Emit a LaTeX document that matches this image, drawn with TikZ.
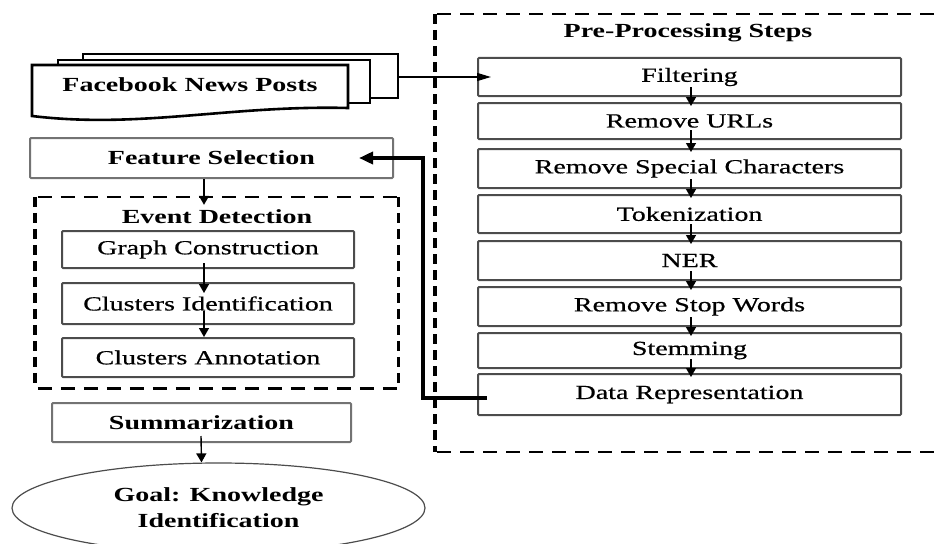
\documentclass[tikz,border=0pt]{standalone}
\usepackage{fontspec}
\setmainfont[FakeStretch=1.4, UprightFeatures={FakeBold=0.6}]{Liberation Serif}
\usetikzlibrary{arrows.meta,shapes.geometric}
\begin{document}
\begin{tikzpicture}[x=1pt,y=-1pt,
  font=\fontsize{20}{26}\selectfont,
  boxbase/.style={draw=black!70, line width=2pt, rounded corners=1pt, inner sep=0pt, fill=white},
  pbox/.style={boxbase, minimum width=423pt},
  ebox/.style={boxbase, minimum width=292pt},
  sheet/.style={draw=black, line width=2.6pt, fill=white, inner sep=0pt},
  hd/.style={line width=2.6pt, dash pattern=on 14pt off 9pt},
  vd/.style={line width=3.4pt, dash pattern=on 10pt off 6pt},
  arr/.style={line width=1.4pt, -{Triangle[length=9pt,width=10pt]}},
  bigarr/.style={line width=3.6pt, -{Triangle[length=14pt,width=12pt]}},
  docarr/.style={line width=1.3pt, -{Triangle[length=14pt,width=8pt]}}
]
\useasboundingbox (0,0) rectangle (936,543);
\clip (0,0) rectangle (936,543);

% ---------- documents ----------
\node[sheet, minimum width=315pt, minimum height=44pt] (doc3) at (240.5,76) {};
\node[sheet, minimum width=312pt, minimum height=43pt] (doc2) at (214,81.5) {};
\draw[line width=2.6pt, fill=white] (32,65) -- (348,65) -- (348,108)
  .. controls (230,105) and (140,129) .. (32,116) -- cycle;
\node[font=\fontsize{20}{26}\selectfont\bfseries] (docs) at (190,85) {Facebook News Posts};

% ---------- pre-processing ----------
\draw[hd] (437,14) -- (950,14);
\draw[hd] (437,452) -- (950,452);
\draw[vd] (435,14) -- (435,452);
\node[font=\fontsize{20}{26}\selectfont\bfseries] (pretitle) at (688,33) {Pre-Processing Steps};

\node[pbox, minimum height=38pt] (filt) at (689.5,77) {Filtering};
\node[pbox, minimum height=36pt] (urls) at (689.5,121) {Remove URLs};
\node[pbox, minimum height=39pt] (spec) at (689.5,168.5) {Remove Special Characters};
\node[pbox, minimum height=38pt] (tok) at (689.5,214) {Tokenization};
\node[pbox, minimum height=39pt] (ner) at (689.5,260.5) {NER};
\node[pbox, minimum height=39pt] (stop) at (689.5,306.5) {Remove Stop Words};
\node[pbox, minimum height=35pt] (stem) at (689.5,350.5) {Stemming};
\node[pbox, minimum height=41pt] (data) at (689.5,394.5) {Data Representation};

\foreach \a/\b in {filt/urls, urls/spec, spec/tok, tok/ner, ner/stop, stop/stem, stem/data}
  \draw[arr] ([xshift=1.5pt,yshift=10pt]\a.south) -- ([xshift=1.5pt,yshift=-4pt]\b.north);

\draw[docarr] (doc3.east |- filt.west) -- ([xshift=14pt]filt.west);

% ---------- left column ----------
\node[boxbase, minimum width=363pt, minimum height=40pt, draw=black!55,
      font=\fontsize{20}{26}\selectfont\bfseries] (fs) at (211.5,158) {Feature Selection};

\node[minimum width=363pt, minimum height=191pt, inner sep=0pt] (evt) at (216.5,292.5) {};
\draw[hd] ([xshift=3pt]evt.north west) -- (evt.north east);
\draw[hd] ([xshift=3pt]evt.south west) -- (evt.south east);
\draw[vd] (evt.north west) -- (evt.south west);
\draw[vd] (evt.north east) -- (evt.south east);
\node[font=\fontsize{20}{26}\selectfont\bfseries] (evttitle) at (217,217) {Event Detection};

\node[ebox, minimum height=37pt] (gc) at (208,249.5) {Graph Construction};
\node[ebox, minimum height=41pt] (ci) at (208,303.5) {Clusters Identification};
\node[ebox, minimum height=39pt] (ca) at (208,357.5) {Clusters Annotation};

\draw[arr] ([xshift=-4pt,yshift=6pt]gc.south) -- ([xshift=-4pt,yshift=-11pt]ci.north);
\draw[arr] ([xshift=-4pt,yshift=14pt]ci.south) -- ([xshift=-4pt]ca.north);

\draw[arr] ([xshift=-7.5pt]fs.south) -- ([xshift=-12.5pt,yshift=-8pt]evt.north);

\node[boxbase, minimum width=299pt, minimum height=39pt, draw=black!55,
      font=\fontsize{20}{26}\selectfont\bfseries] (sum) at (201.5,422.5) {Summarization};

\node[ellipse, draw=black!70, line width=1.2pt, minimum width=413pt, minimum height=90pt,
      inner sep=0pt, align=center, font=\fontsize{20}{26}\selectfont\bfseries]
      (goal) at (218.5,508) {Goal: Knowledge\\Identification};

\draw[arr] ([xshift=-0.5pt,yshift=7pt]sum.south) -- (goal.north -| sum.south);

% ---------- feedback arrow ----------
\draw[bigarr] ([xshift=10pt,yshift=-3.5pt]data.west) -| ([xshift=29pt]fs.east) -- ([xshift=-35pt]fs.east);
\end{tikzpicture}
\end{document}
